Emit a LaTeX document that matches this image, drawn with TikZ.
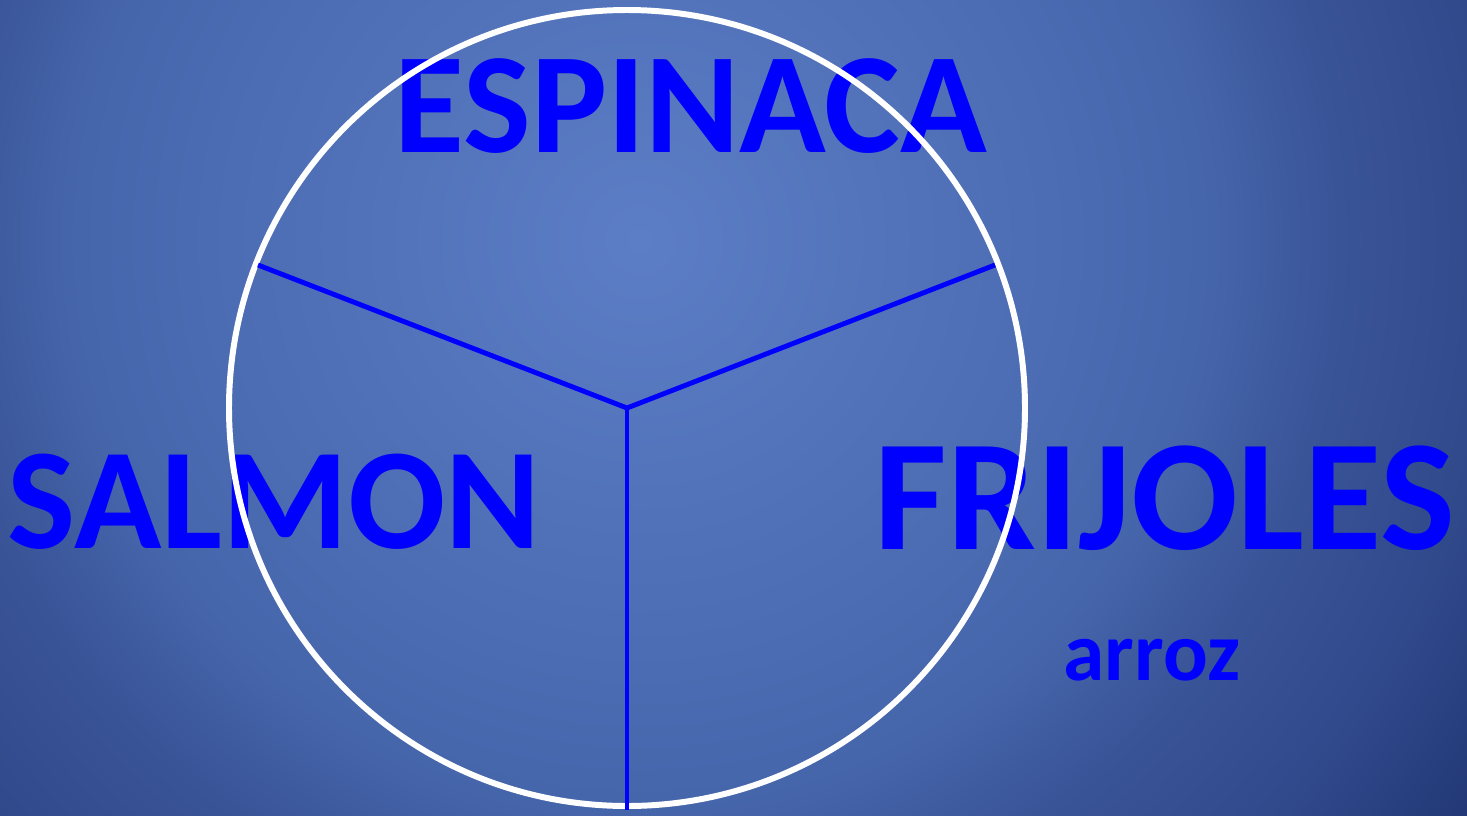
\documentclass[tikz,border=0pt]{standalone}
\usepackage{fontspec}
\setmainfont{Carlito}
\definecolor{bgA}{HTML}{5C7EC6}
\definecolor{bgB}{HTML}{4666AC}
\definecolor{bgC}{HTML}{3A5498}
\definecolor{bgD}{HTML}{30498B}
\definecolor{bgE}{HTML}{223876}
\definecolor{labelblue}{RGB}{0,0,255}
\pgfdeclareradialshading{slide}{\pgfpointorigin}{color(0bp)=(bgA); color(13.9bp)=(bgB); color(17.3bp)=(bgC); color(21.3bp)=(bgD); color(25bp)=(bgE); color(50bp)=(bgE)}
\tikzset{
  word/.style={text=labelblue, font=\bfseries, inner sep=0pt, anchor=base},
  spoke/.style={labelblue, line width=2.8pt},
}
\begin{document}
\begin{tikzpicture}[x=0.02cm, y=-0.02cm]
  \useasboundingbox (0,0) rectangle (1467,815);
  \begin{scope}
    \clip (0,0) rectangle (1467,815);
    \shade[shading=slide] (-370,-770) rectangle (1650,1250);
  \end{scope}
  \node[word, font=\bfseries\fontsize{81.5}{96}\selectfont] (espinaca) at (691,152) {ESPINACA};
  \node[word, font=\bfseries\fontsize{82}{96}\selectfont] (salmon) at (274,548) {SALMON};
  \node[word, font=\bfseries\fontsize{90}{104}\selectfont] (frijoles) at (1165,549) {FRIJOLES};
  \node[word, font=\bfseries\fontsize{47.5}{56}\selectfont] (arroz) at (1152,680) {arroz};
  \draw[white, line width=3.4pt] (627,408) circle (398);
  \coordinate (hub) at (627,408);
  \coordinate (left) at (258,265);
  \coordinate (right) at (995,265);
  \coordinate (down) at (627,810);
  \draw[spoke] (left) -- (hub) -- (right);
  \draw[spoke] (hub) -- (down);
\end{tikzpicture}
\end{document}
